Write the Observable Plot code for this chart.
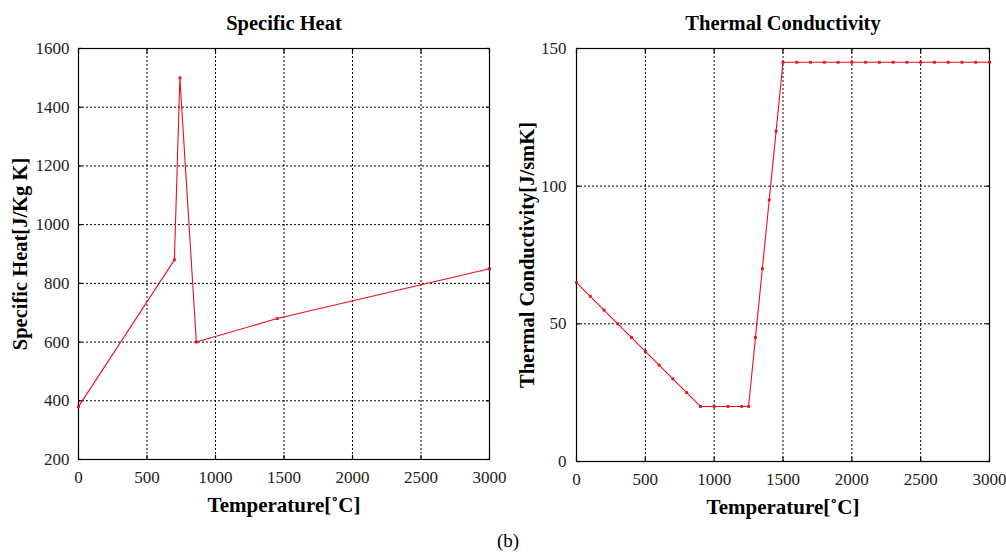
<!DOCTYPE html>
<html>
<head>
<meta charset="utf-8">
<script src="https://cdn.jsdelivr.net/npm/d3@7"></script>
<script src="https://cdn.jsdelivr.net/npm/@observablehq/plot@0.6"></script>
<style>
  html, body { margin: 0; padding: 0; background: #fff; }
  #wrap { width: 1006px; height: 555px; position: relative; font-family: "Liberation Serif", serif; }
  #row { display: flex; }
  #caption { position: absolute; left: 5px; width: 1006px; top: 530px; text-align: center; font-size: 19px; font-family: "Liberation Serif", serif; }
  svg text { font-family: "Liberation Serif", serif; }
</style>
</head>
<body>
<div id="wrap"><div id="row"></div><div id="caption">(b)</div></div>
<script>
const xTicks = [0, 500, 1000, 1500, 2000, 2500, 3000];

const heatTemp = [0, 700, 740, 860, 1450, 3000];
const heatValue = [380, 880, 1500, 600, 680, 850];
const heatTicks = [200, 400, 600, 800, 1000, 1200, 1400, 1600];

const condTemp = [0, 100, 200, 300, 400, 500, 600, 700, 800, 900, 1000, 1100, 1200, 1250,
  1300, 1350, 1400, 1450, 1500, 1600, 1700, 1800, 1900, 2000, 2100, 2200, 2300, 2400,
  2500, 2600, 2700, 2800, 2900, 3000];
const condValue = [65, 60, 55, 50, 45, 40, 35, 30, 25, 20, 20, 20, 20, 20,
  45, 70, 95, 120, 145, 145, 145, 145, 145, 145, 145, 145, 145, 145,
  145, 145, 145, 145, 145, 145];
const condTicks = [0, 50, 100, 150];

const FONT = "Liberation Serif";
const RED = "#e8101a";
const fmt = d => String(d);
const blank = () => "";

function chart({temps, values, yDomain, yTicks, title, yLabel, mLeft, mRight, mTop, mBottom, yLabelDx, yPad}) {
  const data = temps.map((t, i) => ({t, v: values[i]}));
  return Plot.plot({
    width: 503,
    height: 525,
    marginLeft: mLeft,
    marginRight: mRight,
    marginTop: mTop,
    marginBottom: mBottom,
    style: {fontFamily: FONT, overflow: "visible", background: "transparent"},
    x: {domain: [0, 3000]},
    y: {domain: yDomain},
    marks: [
      Plot.gridX(xTicks, {stroke: "black", strokeOpacity: 1, strokeDasharray: "2,2", strokeWidth: 1}),
      Plot.gridY(yTicks, {stroke: "black", strokeOpacity: 1, strokeDasharray: "2,2", strokeWidth: 1}),
      Plot.frame({stroke: "black", strokeWidth: 1.2}),
      Plot.axisX(xTicks, {anchor: "bottom", tickSize: -4, tickFormat: blank, label: null, stroke: "black", strokeWidth: 1.2}),
      Plot.axisX(xTicks, {anchor: "top", tickSize: -4, tickFormat: blank, label: null, stroke: "black", strokeWidth: 1.2}),
      Plot.axisY(yTicks, {anchor: "left", tickSize: -4, tickFormat: blank, label: null, stroke: "black", strokeWidth: 1.2}),
      Plot.axisY(yTicks, {anchor: "right", tickSize: -4, tickFormat: blank, label: null, stroke: "black", strokeWidth: 1.2}),
      Plot.axisX(xTicks, {tickSize: 0, tickPadding: 11, fontSize: 17, fontFamily: FONT, tickFormat: fmt, label: null, fill: "#222"}),
      Plot.axisY(yTicks, {tickSize: 0, tickPadding: yPad, fontSize: 17, fontFamily: FONT, tickFormat: fmt, label: null, fill: "#222"}),
      Plot.line(data, {x: "t", y: "v", stroke: RED, strokeWidth: 1.1}),
      Plot.dot(data, {x: "t", y: "v", symbol: "square", r: 1.6, fill: RED, stroke: "none"}),
      Plot.text([title], {frameAnchor: "top", dy: -33, text: d => d, fontSize: 20.5, fontFamily: FONT, fontWeight: "bold", fill: "black"}),
      Plot.text(["Temperature[˚C]"], {frameAnchor: "bottom", dy: 52, text: d => d, fontSize: 21, fontFamily: FONT, fontWeight: "bold", fill: "black"}),
      Plot.text([yLabel], {frameAnchor: "left", textAnchor: "middle", dx: yLabelDx, rotate: -90, text: d => d, fontSize: 20.5, fontFamily: FONT, fontWeight: "bold", fill: "black"})
    ]
  });
}

const row = document.getElementById("row");
row.append(chart({
  temps: heatTemp, values: heatValue, yDomain: [200, 1600], yTicks: heatTicks,
  title: "Specific Heat", yLabel: "Specific Heat[J/Kg K]",
  mLeft: 78, mRight: 14, mTop: 48, mBottom: 66, yLabelDx: -58, yPad: 9
}));
row.append(chart({
  temps: condTemp, values: condValue, yDomain: [0, 150], yTicks: condTicks,
  title: "Thermal Conductivity", yLabel: "Thermal Conductivity[J/smK]",
  mLeft: 73, mRight: 17, mTop: 48, mBottom: 64, yLabelDx: -49, yPad: 10
}));
</script>
</body>
</html>
